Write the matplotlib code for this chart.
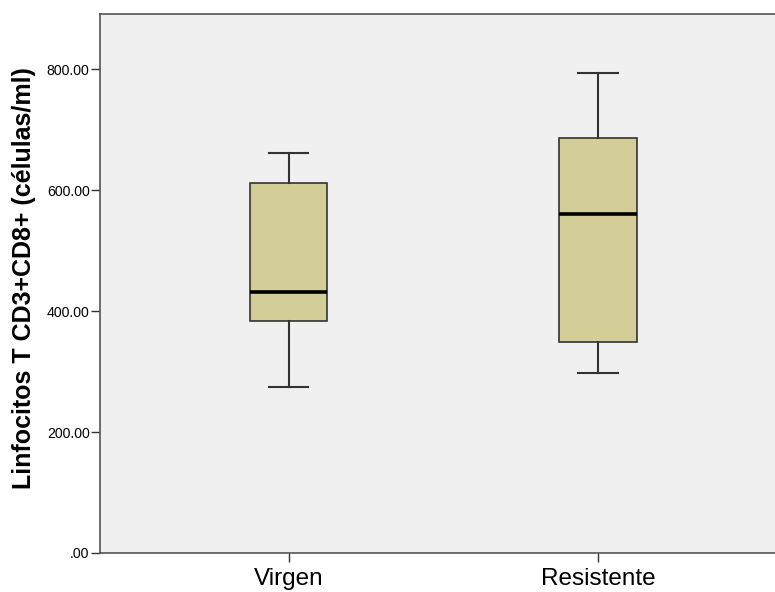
import matplotlib
matplotlib.use("Agg")
import matplotlib.pyplot as plt
from matplotlib.ticker import FuncFormatter

categories = ["Virgen", "Resistente"]
whisker_low = [274, 297]
q1 = [384, 349]
median = [431, 560]
q3 = [612, 686]
whisker_high = [661, 793]
yticks = [0, 200, 400, 600, 800]
ylabel = 'Linfocitos T CD3+CD8+ (células/ml)'

plt.rcParams['font.family'] = ['Liberation Sans', 'DejaVu Sans']

fig = plt.figure(figsize=(7.75, 5.92), dpi=100)
ax = fig.add_axes([100/775, 1-553/592, 1.003-100/775, (553-13.5)/592])
ax.set_facecolor('#F0F0F0')

stats = []
for i, c in enumerate(categories):
    stats.append(dict(label=c, whislo=whisker_low[i], q1=q1[i], med=median[i],
                      q3=q3[i], whishi=whisker_high[i], fliers=[]))

ax.bxp(stats, positions=[1, 2], widths=0.25, patch_artist=True, showfliers=False,
       boxprops=dict(facecolor='#D3CE98', edgecolor='#333333', linewidth=1.2),
       medianprops=dict(color='black', linewidth=2.6),
       whiskerprops=dict(color='#333333', linewidth=1.5),
       capprops=dict(color='#333333', linewidth=1.5),
       capwidths=0.127)

ax.set_xlim(0.39, 2.58)
ax.set_ylim(0, 892)
ax.set_yticks(yticks)
ax.yaxis.set_major_formatter(FuncFormatter(lambda v, p: ('%.2f' % v).lstrip('0') if v == 0 else '%.2f' % v))
ax.tick_params(axis='y', labelsize=10.2, length=6.5, width=1, color='#333333', pad=1)
ax.tick_params(axis='x', labelsize=17.5, length=6.5, width=1, color='#333333', pad=4)
ax.set_xticks([1, 2])
ax.set_xticklabels(categories)
for s in ['left', 'top', 'bottom']:
    ax.spines[s].set_color('#555555')
    ax.spines[s].set_linewidth(1.2)
ax.spines['right'].set_visible(False)

fig.text(24/775, 1 - 278/592, ylabel, rotation=90, ha='center', va='center',
         fontsize=18, fontweight='bold')

fig.savefig('out.png', dpi=100)
